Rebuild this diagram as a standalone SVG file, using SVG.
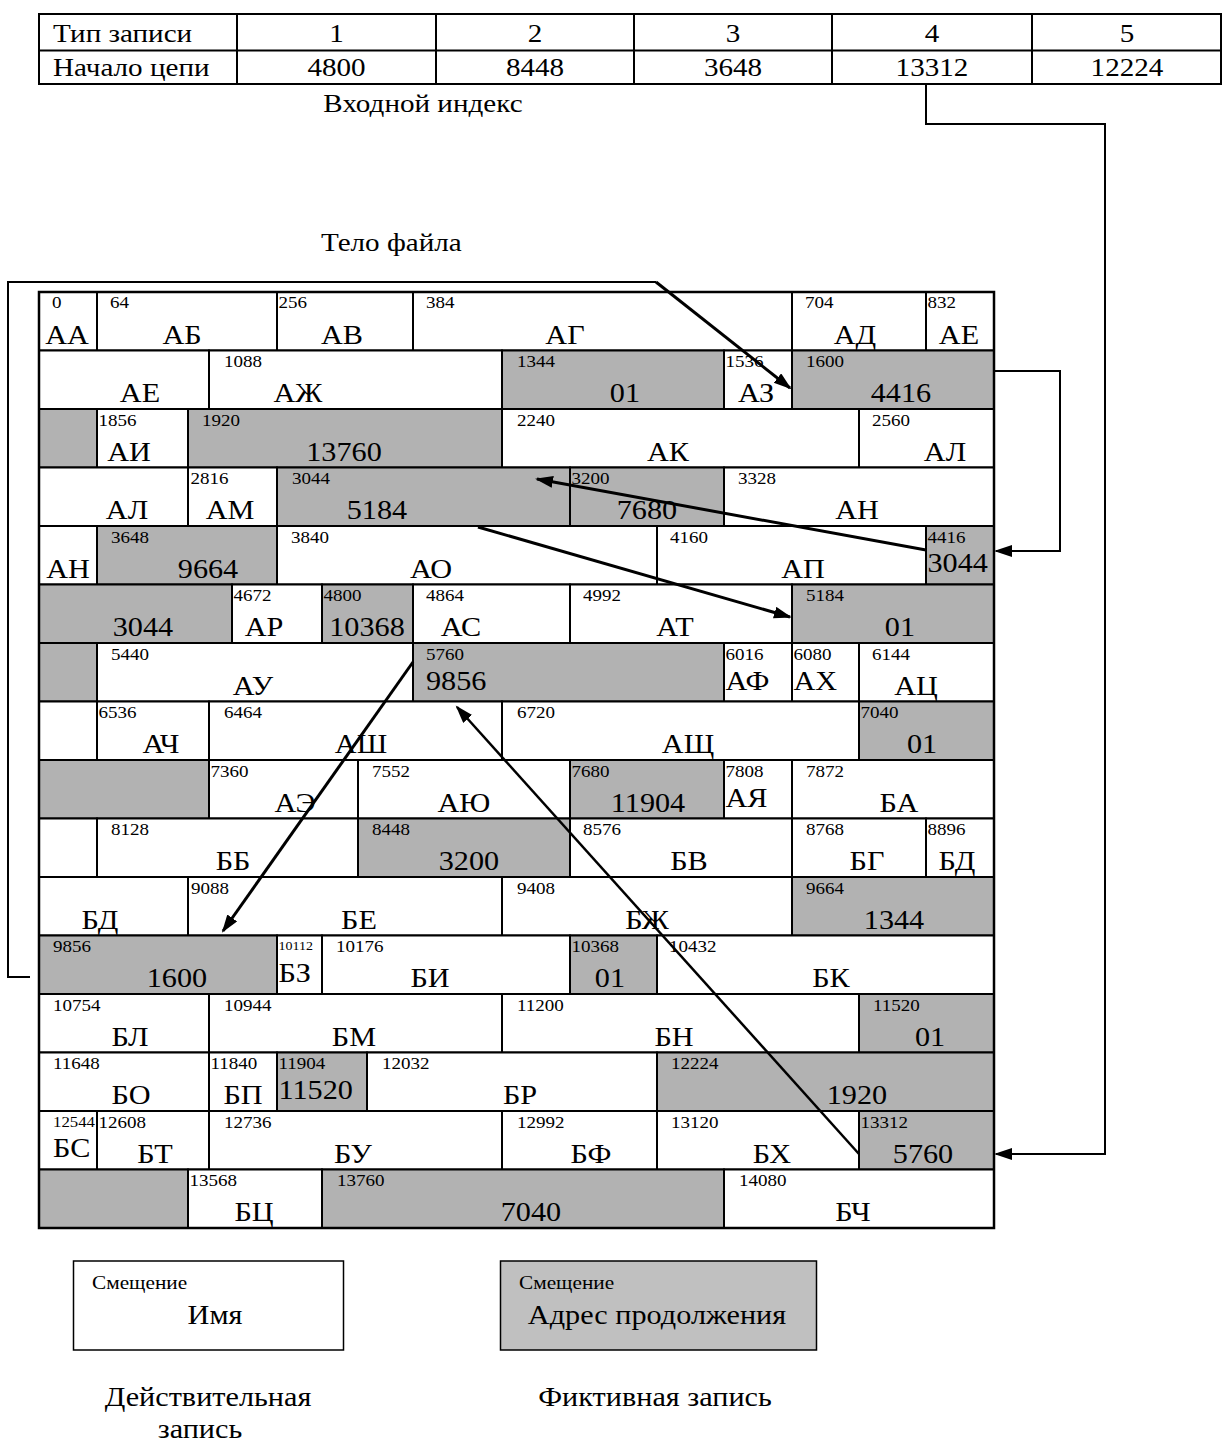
<svg xmlns="http://www.w3.org/2000/svg" width="1222" height="1445" viewBox="0 0 1222 1445">
<style>
.w{fill:#fff;stroke:#000;stroke-width:2}
.g{fill:#b2b2b2;stroke:#000;stroke-width:2}
.lw{fill:#fff;stroke:#000;stroke-width:1.5}
.lg{fill:#c0c0c0;stroke:#000;stroke-width:1.5}
text{font-family:"Liberation Serif","Times New Roman",serif;fill:#000;transform-box:fill-box}
.o{font-size:17px;transform-origin:0 50%;transform:scaleX(1.12)}
.o12{font-size:12.5px;transform-origin:0 50%;transform:scaleX(1.12)}
.o14{font-size:15px;transform-origin:0 50%;transform:scaleX(1.12)}
.m{font-size:27px;text-anchor:middle;transform-origin:50% 50%;transform:scaleX(1.12)}
.s{font-size:27px;transform-origin:0 50%;transform:scaleX(1.12)}
.tm{font-size:26px;text-anchor:middle;transform-origin:50% 50%;transform:scaleX(1.12)}
.ts{font-size:26px;transform-origin:0 50%;transform:scaleX(1.12)}
.ls{font-size:19px;transform-origin:0 50%;transform:scaleX(1.12)}
.cn{fill:none;stroke:#000;stroke-width:2}
.ar{fill:none;stroke:#000;stroke-width:3}
</style>
<defs>
<marker id="ah" markerUnits="userSpaceOnUse" markerWidth="20" markerHeight="14" refX="16" refY="6" orient="auto">
<path d="M0,0 L18,6 L0,12 z" fill="#000"/>
</marker>
</defs>

<g id="index-table">
<rect x="39" y="14" width="1182" height="70" fill="#fff" stroke="#000" stroke-width="2"/>
<path d="M39,50.5 H1221 M237,14 V84 M436,14 V84 M634,14 V84 M832,14 V84 M1032,14 V84" stroke="#000" stroke-width="2" fill="none"/>
<text class="ts" x="53" y="42">Тип записи</text>
<text class="ts" x="53" y="76">Начало цепи</text>
<text class="tm" x="336.5" y="42">1</text>
<text class="tm" x="535" y="42">2</text>
<text class="tm" x="733" y="42">3</text>
<text class="tm" x="932" y="42">4</text>
<text class="tm" x="1127" y="42">5</text>
<text class="tm" x="336.5" y="76">4800</text>
<text class="tm" x="535" y="76">8448</text>
<text class="tm" x="733" y="76">3648</text>
<text class="tm" x="932" y="76">13312</text>
<text class="tm" x="1127" y="76">12224</text>
</g>
<text class="tm" x="423" y="112">Входной индекс</text>
<text class="ts" x="321" y="251">Тело файла</text>

<g id="file-body">
<!-- row 1 -->
<g id="r0"><rect class="w" x="39" y="292" width="58" height="58.5"/><text class="o" x="52" y="308">0</text><text class="m" x="67" y="344">АА</text></g>
<g id="r64"><rect class="w" x="97" y="292" width="180" height="58.5"/><text class="o" x="110" y="308">64</text><text class="m" x="182" y="344">АБ</text></g>
<g id="r256"><rect class="w" x="277" y="292" width="136" height="58.5"/><text class="o" x="278.5" y="308">256</text><text class="m" x="342" y="344">АВ</text></g>
<g id="r384"><rect class="w" x="413" y="292" width="379" height="58.5"/><text class="o" x="426" y="308">384</text><text class="m" x="565" y="344">АГ</text></g>
<g id="r704"><rect class="w" x="792" y="292" width="134" height="58.5"/><text class="o" x="805" y="308">704</text><text class="m" x="855" y="344">АД</text></g>
<g id="r832"><rect class="w" x="926" y="292" width="68" height="58.5"/><text class="o" x="927.5" y="308">832</text><text class="m" x="959" y="344">АЕ</text></g>
<!-- row 2 -->
<g id="r832b"><rect class="w" x="39" y="350.5" width="170" height="58.5"/><text class="m" x="140" y="402.5">АЕ</text></g>
<g id="r1088"><rect class="w" x="209" y="350.5" width="293" height="58.5"/><text class="o" x="224" y="367.5">1088</text><text class="m" x="298" y="402.5">АЖ</text></g>
<g id="r1344"><rect class="g" x="502" y="350.5" width="222" height="58.5"/><text class="o" x="517" y="367.5">1344</text><text class="m" x="625" y="402.5">01</text></g>
<g id="r1536"><rect class="w" x="724" y="350.5" width="68" height="58.5"/><text class="o" x="725.5" y="367.5">1536</text><text class="m" x="756" y="402.5">АЗ</text></g>
<g id="r1600"><rect class="g" x="792" y="350.5" width="202" height="58.5"/><text class="o" x="806" y="367.5">1600</text><text class="m" x="901" y="402.5">4416</text></g>
<!-- row 3 -->
<g id="r1600b"><rect class="g" x="39" y="409" width="58" height="58.5"/></g>
<g id="r1856"><rect class="w" x="97" y="409" width="91" height="58.5"/><text class="o" x="98.5" y="426">1856</text><text class="m" x="129" y="461">АИ</text></g>
<g id="r1920"><rect class="g" x="188" y="409" width="314" height="58.5"/><text class="o" x="202" y="426">1920</text><text class="m" x="344" y="461">13760</text></g>
<g id="r2240"><rect class="w" x="502" y="409" width="357" height="58.5"/><text class="o" x="517" y="426">2240</text><text class="m" x="668" y="461">АК</text></g>
<g id="r2560"><rect class="w" x="859" y="409" width="135" height="58.5"/><text class="o" x="872" y="426">2560</text><text class="m" x="945" y="461">АЛ</text></g>
<!-- row 4 -->
<g id="r2560b"><rect class="w" x="39" y="467.5" width="149" height="58.5"/><text class="m" x="127" y="519.5">АЛ</text></g>
<g id="r2816"><rect class="w" x="188" y="467.5" width="89" height="58.5"/><text class="o" x="190.5" y="484.5">2816</text><text class="m" x="230" y="519.5">АМ</text></g>
<g id="r3044"><rect class="g" x="277" y="467.5" width="293" height="58.5"/><text class="o" x="292" y="484.5">3044</text><text class="m" x="377" y="519.5">5184</text></g>
<g id="r3200"><rect class="g" x="570" y="467.5" width="154" height="58.5"/><text class="o" x="571.5" y="484.5">3200</text><text class="m" x="647" y="519.5">7680</text></g>
<g id="r3328"><rect class="w" x="724" y="467.5" width="270" height="58.5"/><text class="o" x="738" y="484.5">3328</text><text class="m" x="857" y="519.5">АН</text></g>
<!-- row 5 -->
<g id="r3328b"><rect class="w" x="39" y="526" width="58" height="58.5"/><text class="m" x="68" y="578">АН</text></g>
<g id="r3648"><rect class="g" x="97" y="526" width="180" height="58.5"/><text class="o" x="111" y="543">3648</text><text class="m" x="208" y="578">9664</text></g>
<g id="r3840"><rect class="w" x="277" y="526" width="380" height="58.5"/><text class="o" x="291" y="543">3840</text><text class="m" x="431" y="578">АО</text></g>
<g id="r4160"><rect class="w" x="657" y="526" width="269" height="58.5"/><text class="o" x="670" y="543">4160</text><text class="m" x="803" y="578">АП</text></g>
<g id="r4416"><rect class="g" x="926" y="526" width="68" height="58.5"/><text class="o" x="927.5" y="543">4416</text><text class="s" x="927.5" y="572">3044</text></g>
<!-- row 6 -->
<g id="r4416b"><rect class="g" x="39" y="584.5" width="193" height="58.5"/><text class="m" x="143" y="636.5">3044</text></g>
<g id="r4672"><rect class="w" x="232" y="584.5" width="90" height="58.5"/><text class="o" x="233.5" y="601.5">4672</text><text class="m" x="264" y="636.5">АР</text></g>
<g id="r4800"><rect class="g" x="322" y="584.5" width="91" height="58.5"/><text class="o" x="323.5" y="601.5">4800</text><text class="m" x="367" y="636.5">10368</text></g>
<g id="r4864"><rect class="w" x="413" y="584.5" width="157" height="58.5"/><text class="o" x="426" y="601.5">4864</text><text class="m" x="461" y="636.5">АС</text></g>
<g id="r4992"><rect class="w" x="570" y="584.5" width="222" height="58.5"/><text class="o" x="583" y="601.5">4992</text><text class="m" x="675" y="636.5">АТ</text></g>
<g id="r5184"><rect class="g" x="792" y="584.5" width="202" height="58.5"/><text class="o" x="806" y="601.5">5184</text><text class="m" x="900" y="636.5">01</text></g>
<!-- row 7 -->
<g id="r5184b"><rect class="g" x="39" y="643" width="58" height="58.5"/></g>
<g id="r5440"><rect class="w" x="97" y="643" width="316" height="58.5"/><text class="o" x="111" y="660">5440</text><text class="m" x="253" y="695">АУ</text></g>
<g id="r5760"><rect class="g" x="413" y="643" width="311" height="58.5"/><text class="o" x="426" y="660">5760</text><text class="s" x="426" y="690">9856</text></g>
<g id="r6016"><rect class="w" x="724" y="643" width="68" height="58.5"/><text class="o" x="725.5" y="660">6016</text><text class="s" x="725.5" y="690">АФ</text></g>
<g id="r6080"><rect class="w" x="792" y="643" width="67" height="58.5"/><text class="o" x="793.5" y="660">6080</text><text class="s" x="793.5" y="690">АХ</text></g>
<g id="r6144"><rect class="w" x="859" y="643" width="135" height="58.5"/><text class="o" x="872" y="660">6144</text><text class="m" x="916" y="695">АЦ</text></g>
<!-- row 8 -->
<g id="r6144b"><rect class="w" x="39" y="701.5" width="58" height="58.5"/></g>
<g id="r6536"><rect class="w" x="97" y="701.5" width="112" height="58.5"/><text class="o" x="98.5" y="718.5">6536</text><text class="m" x="161" y="753.5">АЧ</text></g>
<g id="r6464"><rect class="w" x="209" y="701.5" width="293" height="58.5"/><text class="o" x="224" y="718.5">6464</text><text class="m" x="361" y="753.5">АШ</text></g>
<g id="r6720"><rect class="w" x="502" y="701.5" width="357" height="58.5"/><text class="o" x="517" y="718.5">6720</text><text class="m" x="688" y="753.5">АЩ</text></g>
<g id="r7040"><rect class="g" x="859" y="701.5" width="135" height="58.5"/><text class="o" x="860.5" y="718.5">7040</text><text class="m" x="922" y="753.5">01</text></g>
<!-- row 9 -->
<g id="r7040b"><rect class="g" x="39" y="760" width="170" height="58.5"/></g>
<g id="r7360"><rect class="w" x="209" y="760" width="149" height="58.5"/><text class="o" x="210.5" y="777">7360</text><text class="m" x="295" y="812">АЭ</text></g>
<g id="r7552"><rect class="w" x="358" y="760" width="212" height="58.5"/><text class="o" x="372" y="777">7552</text><text class="m" x="464" y="812">АЮ</text></g>
<g id="r7680"><rect class="g" x="570" y="760" width="154" height="58.5"/><text class="o" x="571.5" y="777">7680</text><text class="m" x="648" y="812">11904</text></g>
<g id="r7808"><rect class="w" x="724" y="760" width="68" height="58.5"/><text class="o" x="725.5" y="777">7808</text><text class="s" x="725.5" y="807">АЯ</text></g>
<g id="r7872"><rect class="w" x="792" y="760" width="202" height="58.5"/><text class="o" x="806" y="777">7872</text><text class="m" x="899" y="812">БА</text></g>
<!-- row 10 -->
<g id="r7872b"><rect class="w" x="39" y="818.5" width="58" height="58.5"/></g>
<g id="r8128"><rect class="w" x="97" y="818.5" width="261" height="58.5"/><text class="o" x="111" y="835.5">8128</text><text class="m" x="233" y="870.5">ББ</text></g>
<g id="r8448"><rect class="g" x="358" y="818.5" width="212" height="58.5"/><text class="o" x="372" y="835.5">8448</text><text class="m" x="469" y="870.5">3200</text></g>
<g id="r8576"><rect class="w" x="570" y="818.5" width="222" height="58.5"/><text class="o" x="583" y="835.5">8576</text><text class="m" x="689" y="870.5">БВ</text></g>
<g id="r8768"><rect class="w" x="792" y="818.5" width="134" height="58.5"/><text class="o" x="806" y="835.5">8768</text><text class="m" x="867" y="870.5">БГ</text></g>
<g id="r8896"><rect class="w" x="926" y="818.5" width="68" height="58.5"/><text class="o" x="927.5" y="835.5">8896</text><text class="m" x="957" y="870.5">БД</text></g>
<!-- row 11 -->
<g id="r8896b"><rect class="w" x="39" y="877" width="149" height="58.5"/><text class="m" x="100" y="929">БД</text></g>
<g id="r9088"><rect class="w" x="188" y="877" width="314" height="58.5"/><text class="o" x="191" y="894">9088</text><text class="m" x="359" y="929">БЕ</text></g>
<g id="r9408"><rect class="w" x="502" y="877" width="290" height="58.5"/><text class="o" x="517" y="894">9408</text><text class="m" x="647" y="929">БЖ</text></g>
<g id="r9664"><rect class="g" x="792" y="877" width="202" height="58.5"/><text class="o" x="806" y="894">9664</text><text class="m" x="894" y="929">1344</text></g>
<!-- row 12 -->
<g id="r9856"><rect class="g" x="39" y="935.5" width="238" height="58.5"/><text class="o" x="53" y="952.5">9856</text><text class="m" x="177" y="987.5">1600</text></g>
<g id="r10112"><rect class="w" x="277" y="935.5" width="45" height="58.5"/><text class="o12" x="278.5" y="950">10112</text><text class="s" x="278.5" y="982">БЗ</text></g>
<g id="r10176"><rect class="w" x="322" y="935.5" width="248" height="58.5"/><text class="o" x="336" y="952.5">10176</text><text class="m" x="430" y="987.5">БИ</text></g>
<g id="r10368"><rect class="g" x="570" y="935.5" width="87" height="58.5"/><text class="o" x="571.5" y="952.5">10368</text><text class="m" x="610" y="987.5">01</text></g>
<g id="r10432"><rect class="w" x="657" y="935.5" width="337" height="58.5"/><text class="o" x="669" y="952.5">10432</text><text class="m" x="831" y="987.5">БК</text></g>
<!-- row 13 -->
<g id="r10754"><rect class="w" x="39" y="994" width="170" height="58.5"/><text class="o" x="53" y="1011">10754</text><text class="m" x="130" y="1046">БЛ</text></g>
<g id="r10944"><rect class="w" x="209" y="994" width="293" height="58.5"/><text class="o" x="224" y="1011">10944</text><text class="m" x="354" y="1046">БМ</text></g>
<g id="r11200"><rect class="w" x="502" y="994" width="357" height="58.5"/><text class="o" x="517" y="1011">11200</text><text class="m" x="674" y="1046">БН</text></g>
<g id="r11520"><rect class="g" x="859" y="994" width="135" height="58.5"/><text class="o" x="873" y="1011">11520</text><text class="m" x="930" y="1046">01</text></g>
<!-- row 14 -->
<g id="r11648"><rect class="w" x="39" y="1052.5" width="170" height="58.5"/><text class="o" x="53" y="1069.5">11648</text><text class="m" x="131" y="1104.5">БО</text></g>
<g id="r11840"><rect class="w" x="209" y="1052.5" width="68" height="58.5"/><text class="o" x="210.5" y="1069.5">11840</text><text class="m" x="243" y="1104.5">БП</text></g>
<g id="r11904"><rect class="g" x="277" y="1052.5" width="90" height="58.5"/><text class="o" x="278.5" y="1069.5">11904</text><text class="s" x="278.5" y="1099">11520</text></g>
<g id="r12032"><rect class="w" x="367" y="1052.5" width="290" height="58.5"/><text class="o" x="382" y="1069.5">12032</text><text class="m" x="520" y="1104.5">БР</text></g>
<g id="r12224"><rect class="g" x="657" y="1052.5" width="337" height="58.5"/><text class="o" x="671" y="1069.5">12224</text><text class="m" x="857" y="1104.5">1920</text></g>
<!-- row 15 -->
<g id="r12544"><rect class="w" x="39" y="1111" width="58" height="58.5"/><text class="o14" x="53" y="1127">12544</text><text class="s" x="53" y="1157">БС</text></g>
<g id="r12608"><rect class="w" x="97" y="1111" width="112" height="58.5"/><text class="o" x="98.5" y="1128">12608</text><text class="m" x="155" y="1163">БТ</text></g>
<g id="r12736"><rect class="w" x="209" y="1111" width="293" height="58.5"/><text class="o" x="224" y="1128">12736</text><text class="m" x="353" y="1163">БУ</text></g>
<g id="r12992"><rect class="w" x="502" y="1111" width="155" height="58.5"/><text class="o" x="517" y="1128">12992</text><text class="m" x="591" y="1163">БФ</text></g>
<g id="r13120"><rect class="w" x="657" y="1111" width="202" height="58.5"/><text class="o" x="671" y="1128">13120</text><text class="m" x="772" y="1163">БХ</text></g>
<g id="r13312"><rect class="g" x="859" y="1111" width="135" height="58.5"/><text class="o" x="860.5" y="1128">13312</text><text class="m" x="923" y="1163">5760</text></g>
<!-- row 16 -->
<g id="r13312b"><rect class="g" x="39" y="1169.5" width="149" height="58.5"/></g>
<g id="r13568"><rect class="w" x="188" y="1169.5" width="134" height="58.5"/><text class="o" x="189.5" y="1186.5">13568</text><text class="m" x="254" y="1221.5">БЦ</text></g>
<g id="r13760"><rect class="g" x="322" y="1169.5" width="402" height="58.5"/><text class="o" x="337" y="1186.5">13760</text><text class="m" x="531" y="1221.5">7040</text></g>
<g id="r14080"><rect class="w" x="724" y="1169.5" width="270" height="58.5"/><text class="o" x="739" y="1186.5">14080</text><text class="m" x="853" y="1221.5">БЧ</text></g>
<rect x="39" y="292" width="955" height="936" fill="none" stroke="#000" stroke-width="2.5"/>
</g>

<g id="connectors">
<path class="cn" d="M30,977 H8 V282 H656"/>
<path class="ar" d="M656,282 L790,388" marker-end="url(#ah)"/>
<path class="cn" d="M994,371 H1060 V551 H996" marker-end="url(#ah)"/>
<path class="cn" d="M926,84 V124 H1105 V1154 H996" marker-end="url(#ah)"/>
<path class="ar" d="M926,550 L537,479" marker-end="url(#ah)"/>
<path class="ar" d="M478,527 L790,617" marker-end="url(#ah)"/>
<path class="ar" d="M413,662 L223,931" marker-end="url(#ah)"/>
<path class="ar" style="stroke-width:2.5" d="M859,1154 L457,707" marker-end="url(#ah)"/>
</g>

<g id="legend-real">
<rect class="lw" x="73.5" y="1261" width="270" height="89"/>
<text class="ls" x="92" y="1289">Смещение</text>
<text class="m" x="215" y="1324">Имя</text>
<text class="m" x="208" y="1406">Действительная</text>
<text class="m" x="200" y="1438">запись</text>
</g>
<g id="legend-fictive">
<rect class="lg" x="500.5" y="1261" width="316" height="89"/>
<text class="ls" x="519" y="1289">Смещение</text>
<text class="m" x="657" y="1324">Адрес продолжения</text>
<text class="m" x="655" y="1406">Фиктивная запись</text>
</g>
</svg>
